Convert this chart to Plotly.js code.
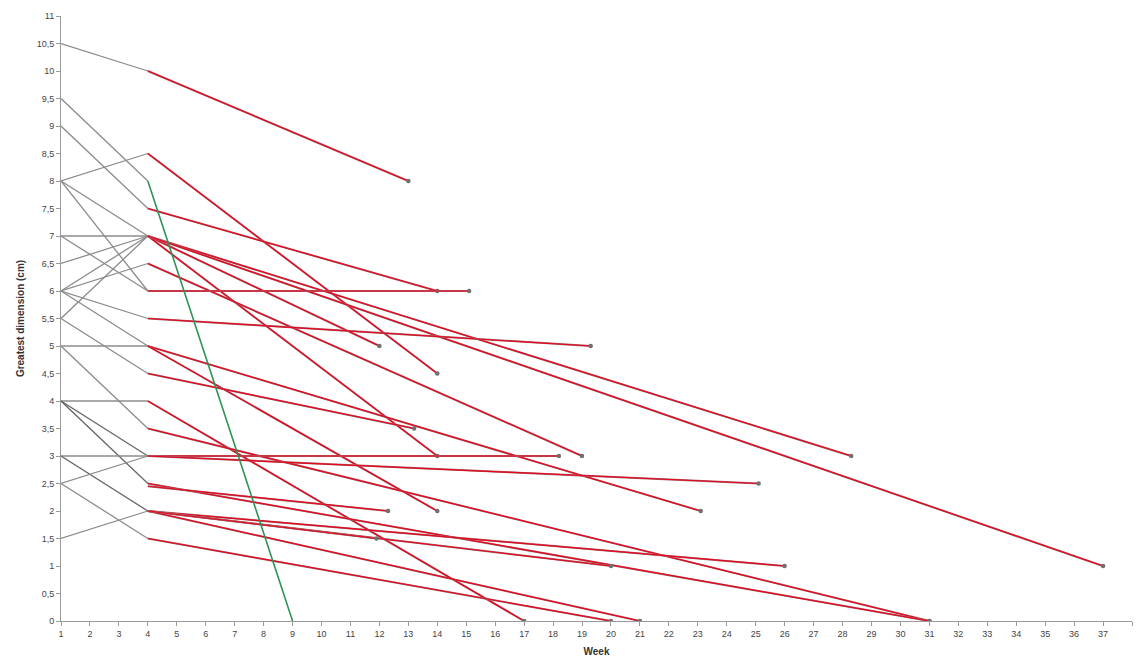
<!DOCTYPE html>
<html>
<head>
<meta charset="utf-8">
<script src="https://cdn.plot.ly/plotly-3.0.1.min.js"></script>
<style>
  html, body { margin: 0; padding: 0; background: #fff; }
  #chart { width: 1137px; height: 660px; }
</style>
</head>
<body>
<div id="chart"></div>
<script>
// Week 1 -> week 4 measurements (gray segments)
const grayStartVal = [10.5, 9.5, 9, 8, 8, 8, 7, 7, 6.5, 6, 6, 5.5, 6, 6, 5.5, 5, 5, 4, 4, 4, 3, 3, 2.5, 2.5, 1.5];
const grayEndVal   = [10, 8, 7.5, 8.5, 7, 6, 7, 6, 7, 6.5, 7, 7, 5.5, 5, 4.5, 5, 3.5, 4, 3, 2.5, 3, 2, 3, 1.5, 2];
const grayWeeks = [1, 4];

// Week 4 -> final measurement (red segments)
const redStartVal = [10, 8.5, 7.5, 7, 7, 7, 7, 6.5, 6, 5.5, 5, 5, 4.5, 4, 3.5, 3, 3, 2.5, 2.45, 2, 2, 2, 2, 1.5];
const redEndWeek  = [13, 14, 14, 12, 14, 28.3, 37, 19, 15.1, 19.3, 23.1, 14, 13.2, 17, 31, 18.2, 25.1, 31, 12.3, 26, 20, 21, 11.9, 20];
const redEndVal   = [8, 4.5, 6, 5, 3, 3, 1, 3, 6, 5, 2, 2, 3.5, 0, 0, 3, 2.5, 0, 2, 1, 1, 0, 1.5, 0];
const redStartWeek = 4;

// Reference line (green)
const greenWeeks = [4, 9];
const greenVals  = [8, 0];

const xTicks = Array.from({length: 38}, (_, i) => i + 1);

const traces = [];
for (let i = 0; i < grayStartVal.length; i++) {
  traces.push({
    x: grayWeeks, y: [grayStartVal[i], grayEndVal[i]],
    mode: 'lines', type: 'scatter', hoverinfo: 'skip',
    line: {color: (i === 19 || i === 21 || i === 18) ? '#666666' : '#8c8c8c', width: 1.3}
  });
}
for (let i = 0; i < redStartVal.length; i++) {
  const xs = [redStartWeek, redEndWeek[i]];
  const ys = [redStartVal[i], redEndVal[i]];
  traces.push({
    x: xs, y: ys, mode: 'lines', type: 'scatter', hoverinfo: 'skip',
    line: {color: '#a86a6e', width: 2.0}
  });
  traces.push({
    x: xs, y: ys, mode: 'lines', type: 'scatter', hoverinfo: 'skip',
    line: {color: '#e3061f', width: 1.2}
  });
  traces.push({
    x: [redEndWeek[i]], y: [redEndVal[i]], mode: 'markers', type: 'scatter', hoverinfo: 'skip',
    marker: {size: 4.5, color: '#707070'}
  });
}
traces.push({
  x: greenWeeks, y: greenVals, mode: 'lines', type: 'scatter', hoverinfo: 'skip',
  line: {color: '#2f9355', width: 1.6}
});

const layout = {
  width: 1137, height: 660,
  margin: {l: 61, r: 5, t: 16, b: 39},
  paper_bgcolor: '#ffffff', plot_bgcolor: '#ffffff',
  showlegend: false,
  separators: ', ',
  font: {family: 'Liberation Sans, Arial, sans-serif', color: '#444', size: 9},
  xaxis: {
    range: [1, 38], tickvals: xTicks, ticktext: xTicks.map(String),
    showgrid: false, zeroline: false,
    showline: true, linecolor: '#9a9a9a', linewidth: 1,
    ticks: 'outside', ticklen: 4, tickcolor: '#9a9a9a',
    tickfont: {size: 9, color: '#444'},
    title: {text: '<b>Week</b>', font: {size: 10, color: '#333'}, standoff: 10},
    automargin: false
  },
  yaxis: {
    range: [0, 11], dtick: 0.5, tick0: 0,
    showgrid: false, zeroline: false,
    showline: true, linecolor: '#9a9a9a', linewidth: 1,
    ticks: 'outside', ticklen: 4, tickcolor: '#9a9a9a',
    tickfont: {size: 9, color: '#444'},
    title: {text: '<b>Greatest dimension (cm)</b>', font: {size: 10, color: '#333'}, standoff: 10},
    automargin: false
  }
};

Plotly.newPlot('chart', traces, layout, {staticPlot: true, displayModeBar: false});
</script>
</body>
</html>
